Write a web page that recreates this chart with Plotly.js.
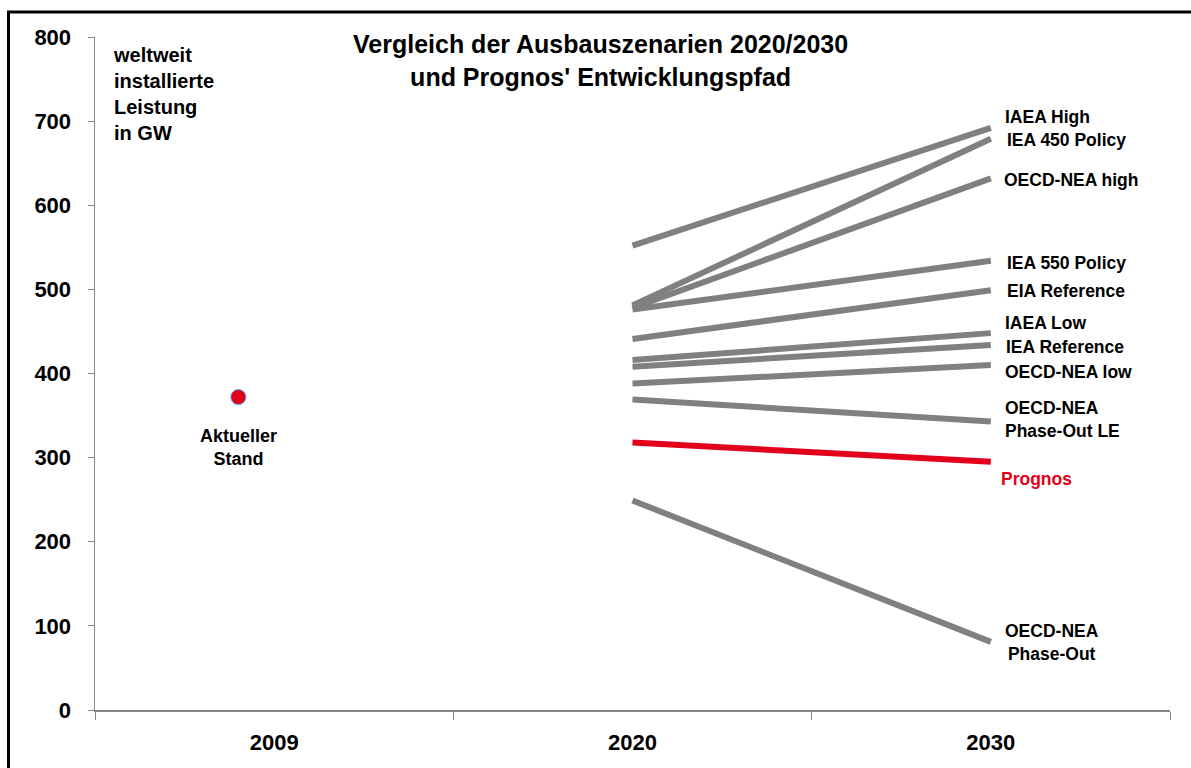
<!DOCTYPE html>
<html>
<head>
<meta charset="utf-8">
<script src="https://cdn.plot.ly/plotly-3.0.1.min.js"></script>
<style>html,body{margin:0;padding:0;background:#fff;}#chart{width:1191px;height:768px;}</style>
</head>
<body>
<div id="chart"></div>
<script>
// ---- data ----
const categories = ['2009', '2020', '2030'];
const scenarios = ['IAEA High', 'IEA 450 Policy', 'OECD-NEA high', 'IEA 550 Policy', 'EIA Reference',
  'IAEA Low', 'IEA Reference', 'OECD-NEA low', 'OECD-NEA<br>Phase-Out LE', 'Prognos', 'OECD-NEA<br>Phase-Out'];
const values2020 = [552, 481, 478, 476, 441, 416, 408, 388, 369, 318, 249];
const values2030 = [692, 679, 632, 534, 499, 448, 434, 410, 343, 295, 81];
const currentLabel = 'Aktueller<br>Stand';
const currentValue = 372;
const titleText = 'Vergleich der Ausbauszenarien 2020/2030<br>und Prognos\' Entwicklungspfad';
const yLabelText = 'weltweit<br>installierte<br>Leistung<br>in GW';
const yTicks = [0, 100, 200, 300, 400, 500, 600, 700, 800];

// ---- style ----
const FONT = '"Liberation Sans", Arial, sans-serif';
const GRAY = '#808080';
const RED = '#E2001A';
const highlight = 'Prognos';
const centeredLabels = ['OECD-NEA<br>Phase-Out'];
const labelYShift = [11, -1, -2, -2, -1, 10, -2, -7, 2, -17, -1];
const labelXShift = [12, 14, 11, 14, 14, 12, 13, 12, 12, 8, 12];
const dotOffset = -0.1;
const idx = c => categories.indexOf(c);

const traces = scenarios.map((s, i) => ({
  type: 'scatter', mode: 'lines',
  x: [idx('2020'), idx('2030')],
  y: [values2020[i], values2030[i]],
  xaxis: 'x2',
  line: {color: s === highlight ? RED : GRAY, width: 6},
  hoverinfo: 'skip', showlegend: false
}));
traces.push({
  type: 'scatter', mode: 'markers',
  x: [idx('2009') + dotOffset], y: [currentValue],
  xaxis: 'x2',
  marker: {color: RED, size: 15, line: {color: '#5B9BD5', width: 1}},
  hoverinfo: 'skip', showlegend: false
});
// invisible trace to anchor the category axis
traces.push({
  type: 'scatter', mode: 'markers', x: categories, y: [null, null, null],
  hoverinfo: 'skip', showlegend: false
});

const annotations = scenarios.map((s, i) => ({
  x: idx('2030'), y: values2030[i], xref: 'x2', yref: 'y',
  text: '<b>' + s + '</b>', showarrow: false,
  xanchor: 'left', yanchor: 'middle', xshift: labelXShift[i], yshift: labelYShift[i],
  align: centeredLabels.includes(s) ? 'center' : 'left',
  font: {family: FONT, size: 17.5, color: s === highlight ? RED : '#000'}
}));
annotations.push({
  x: idx('2009') + dotOffset, y: currentValue, xref: 'x2', yref: 'y',
  text: '<b>' + currentLabel + '</b>', showarrow: false,
  xanchor: 'center', yanchor: 'middle', yshift: -50, align: 'center',
  font: {family: FONT, size: 18, color: '#000'}
});
annotations.push({
  x: 0.015, y: 0.993, xref: 'paper', yref: 'paper',
  text: '<b>' + yLabelText + '</b>', showarrow: false,
  xanchor: 'left', yanchor: 'top', align: 'left',
  font: {family: FONT, size: 20, color: '#000'}
});
annotations.push({
  x: (600 - 95) / 1075, y: (710 - 60.5) / 673, xref: 'paper', yref: 'paper',
  text: '<b>' + titleText + '</b>', showarrow: false,
  xanchor: 'center', yanchor: 'middle', align: 'center',
  font: {family: FONT, size: 25, color: '#000'}
});

const layout = {
  width: 1191, height: 768,
  margin: {l: 95, r: 21, t: 37, b: 58},
  paper_bgcolor: '#fff', plot_bgcolor: '#fff',
  xaxis: {
    type: 'category', categoryarray: categories, categoryorder: 'array',
    range: [-0.5, 2.5], tickson: 'boundaries',
    showline: true, linecolor: '#868686', linewidth: 2,
    ticks: 'outside', ticklen: 8, tickcolor: '#868686', tickwidth: 1,
    showgrid: false, zeroline: false, fixedrange: true,
    ticklabelstandoff: 12,
    tickfont: {family: FONT, size: 22, color: '#000', weight: 'bold'}
  },
  xaxis2: {
    overlaying: 'x', range: [-0.5, 2.5], visible: false, fixedrange: true
  },
  yaxis: {
    range: [0, 800], tickvals: yTicks,
    showline: true, linecolor: '#868686', linewidth: 1.5,
    ticks: 'outside', ticklen: 6, tickcolor: '#868686', tickwidth: 1,
    showgrid: false, zeroline: false, fixedrange: true,
    ticklabelstandoff: 12,
    tickfont: {family: FONT, size: 22, color: '#000', weight: 'bold'}
  },
  shapes: [{
    type: 'rect', xref: 'paper', yref: 'paper',
    x0: (8.5 - 95) / 1075, x1: (1210 - 95) / 1075,
    y0: (710 - 790) / 673, y1: (710 - 12) / 673,
    line: {color: '#000', width: 3}, fillcolor: 'rgba(0,0,0,0)', layer: 'below'
  }],
  annotations: annotations
};

Plotly.newPlot('chart', traces, layout, {displayModeBar: false, staticPlot: true});
</script>
</body>
</html>
